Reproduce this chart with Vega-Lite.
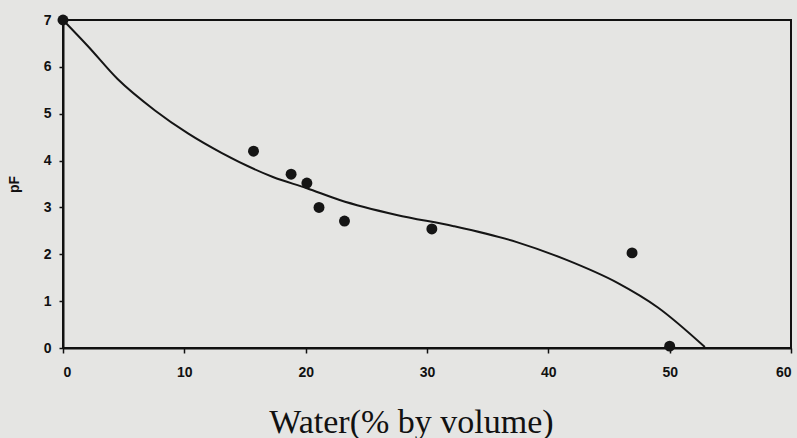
{
  "$schema": "https://vega.github.io/schema/vega-lite/v6.json",
  "width": 728,
  "height": 328,
  "autosize": {"type": "none"},
  "padding": {"left": 63, "top": 20, "right": 6, "bottom": 90},
  "background": "#e5e5e3",
  "config": {
    "view": {"stroke": "#111", "strokeWidth": 2},
    "axis": {"grid": false, "domainColor": "#111", "domainWidth": 2, "tickColor": "#111", "tickWidth": 1.5,
      "labelFont": "Liberation Sans", "labelFontWeight": "bold", "labelFontSize": 14, "labelColor": "#111"}
  },
  "datasets": {
    "points": [
      {"water": 0, "pF": 7},
      {"water": 15.7, "pF": 4.2},
      {"water": 18.8, "pF": 3.71},
      {"water": 20.1, "pF": 3.52},
      {"water": 21.1, "pF": 3.0},
      {"water": 23.2, "pF": 2.71},
      {"water": 30.4, "pF": 2.54},
      {"water": 46.9, "pF": 2.03},
      {"water": 50.0, "pF": 0.04}
    ],
    "curve": [
      {"water": 0, "pF": 7},
      {"water": 2.06, "pF": 6.44},
      {"water": 4.5, "pF": 5.74},
      {"water": 7.58, "pF": 5.07},
      {"water": 10.3, "pF": 4.58},
      {"water": 13.1, "pF": 4.16},
      {"water": 17.3, "pF": 3.65},
      {"water": 20.1, "pF": 3.41},
      {"water": 22.8, "pF": 3.16},
      {"water": 27.5, "pF": 2.84},
      {"water": 32.2, "pF": 2.6},
      {"water": 37.4, "pF": 2.26},
      {"water": 41.5, "pF": 1.88},
      {"water": 45.7, "pF": 1.39},
      {"water": 49.0, "pF": 0.87},
      {"water": 52.9, "pF": 0.02}
    ]
  },
  "encoding": {
    "x": {"field": "water", "type": "quantitative", "scale": {"domain": [0, 60], "nice": false},
      "axis": {"values": [0, 10, 20, 30, 40, 50, 60], "tickSize": 5, "labelPadding": 12,
        "title": "Water(% by volume)", "titleFont": "Liberation Serif", "titleFontWeight": "normal", "titleFontSize": 34, "titleColor": "#111",
        "titleX": 348, "titleY": 84, "titleBaseline": "alphabetic"}},
    "y": {"field": "pF", "type": "quantitative", "scale": {"domain": [0, 7], "nice": false},
      "axis": {"values": [0, 1, 2, 3, 4, 5, 6, 7], "tickSize": 4, "labelPadding": 8,
        "title": "pF", "titleFont": "Liberation Sans", "titleFontWeight": "bold", "titleFontSize": 14, "titleColor": "#111", "titlePadding": 22}}
  },
  "layer": [
    {"data": {"name": "curve"}, "mark": {"type": "line", "color": "#151515", "strokeWidth": 2, "interpolate": "monotone", "clip": false}},
    {"data": {"name": "points"}, "mark": {"type": "point", "filled": true, "shape": "circle", "size": 120, "color": "#151515", "opacity": 1, "clip": false}}
  ]
}
